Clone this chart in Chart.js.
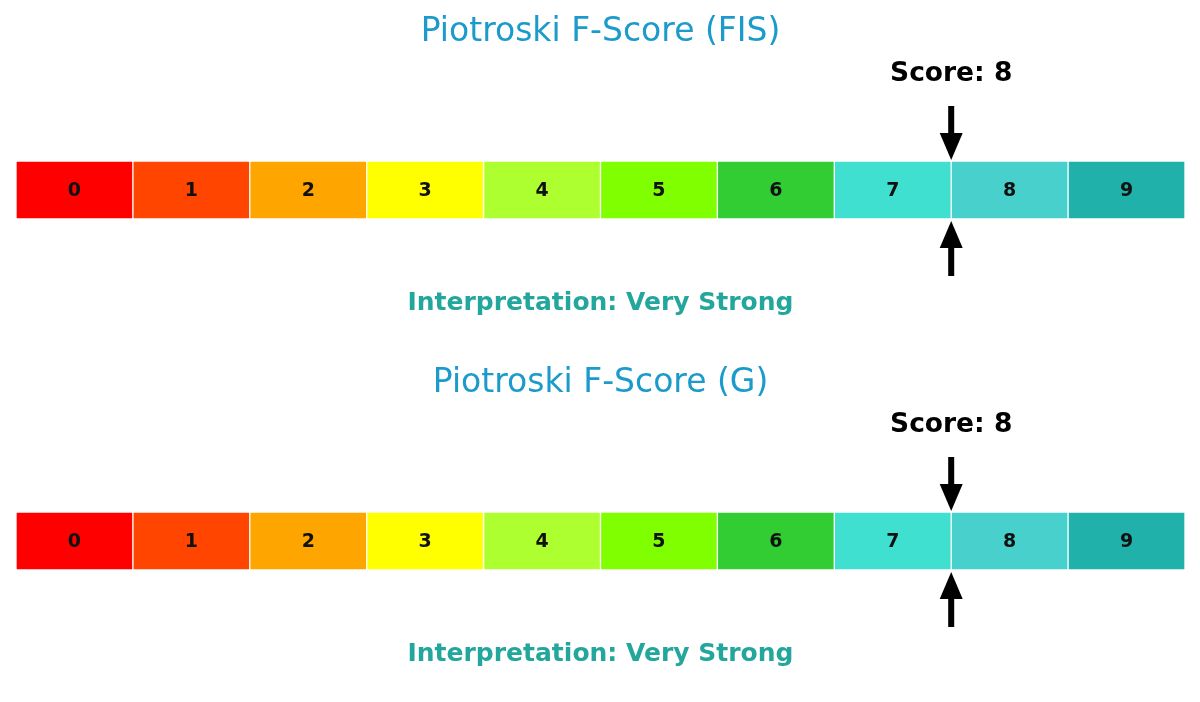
<!DOCTYPE html>
<html>
<head>
<meta charset="utf-8">
<script src="https://cdn.jsdelivr.net/npm/chart.js@4"></script>
<style>
  body { margin: 0; background: #fff; }
  .panel { width: 1200px; height: 351px; position: relative; }
</style>
</head>
<body>
<div class="panel"><canvas id="grafico0"></canvas></div>
<div class="panel"><canvas id="grafico1"></canvas></div>
<script>
const titulos = ["Piotroski F-Score (FIS)", "Piotroski F-Score (G)"];
const scores = [8, 8];
const interpretacoes = ["Very Strong", "Very Strong"];
const niveis = [0, 1, 2, 3, 4, 5, 6, 7, 8, 9];
const cores = ["#ff0000", "#ff4500", "#ffa500", "#ffff00", "#adff2f",
               "#7fff00", "#32cd32", "#40e0d0", "#48d1cc", "#20b2aa"];

const fonte = "DejaVu Sans";

// desenha numeros, setas e textos em cima da barra
const extras = {
  id: "extras",
  afterDatasetsDraw(chart, args, opts) {
    const ctx = chart.ctx;
    const xs = chart.scales.x;
    const meta = chart.getDatasetMeta(0);

    ctx.save();
    ctx.textAlign = "center";
    ctx.textBaseline = "middle";
    ctx.fillStyle = "#111";
    ctx.font = "bold 19px '" + fonte + "'";
    meta.data.forEach((bar, i) => {
      ctx.fillText(niveis[i], bar.x - (bar.x - bar.base) / 2, bar.y + 1);
    });

    const bar = meta.data[0];
    const topo = bar.y - bar.height / 2;
    const baixo = bar.y + bar.height / 2;
    const px = xs.getPixelForValue(opts.score);

    ctx.fillStyle = "#000";
    // seta de cima
    ctx.fillRect(px - 3, topo - 55, 6, 30);
    ctx.beginPath();
    ctx.moveTo(px - 11.5, topo - 28);
    ctx.lineTo(px + 11.5, topo - 28);
    ctx.lineTo(px, topo - 1);
    ctx.closePath();
    ctx.fill();
    // seta de baixo
    ctx.fillRect(px - 3, baixo + 26, 6, 31);
    ctx.beginPath();
    ctx.moveTo(px - 11.5, baixo + 29);
    ctx.lineTo(px + 11.5, baixo + 29);
    ctx.lineTo(px, baixo + 2);
    ctx.closePath();
    ctx.fill();

    ctx.font = "bold 26.5px '" + fonte + "'";
    ctx.fillText("Score: " + opts.score, px, topo - 87);

    ctx.fillStyle = "#23a69c";
    ctx.font = "bold 25px '" + fonte + "'";
    ctx.fillText("Interpretation: " + opts.texto, (xs.left + xs.right) / 2, baixo + 84);
    ctx.restore();
  }
};

for (let p = 0; p < titulos.length; p++) {
  const dados = niveis.map(n => ({ x: [n, n + 1], y: "s" }));
  new Chart(document.getElementById("grafico" + p), {
    type: "bar",
    data: {
      labels: ["s"],
      datasets: [{
        data: dados,
        backgroundColor: cores,
        borderColor: "#ffffff",
        borderWidth: 1,
        borderSkipped: false,
        barThickness: 58,
        grouped: false
      }]
    },
    options: {
      indexAxis: "y",
      responsive: true,
      maintainAspectRatio: false,
      animation: false,
      layout: { padding: { left: 16, right: 15, top: 0, bottom: 71 } },
      scales: {
        x: { type: "linear", min: 0, max: 10, display: false },
        y: { display: false }
      },
      plugins: {
        legend: { display: false },
        tooltip: { enabled: false },
        title: {
          display: true,
          text: titulos[p],
          color: "#1b9bcb",
          font: { family: fonte, size: 33, weight: "normal", lineHeight: 1.2 },
          padding: { top: 12.2, bottom: 48.2 }
        },
        extras: { score: scores[p], texto: interpretacoes[p] }
      }
    },
    plugins: [extras]
  });
}
</script>
</body>
</html>
